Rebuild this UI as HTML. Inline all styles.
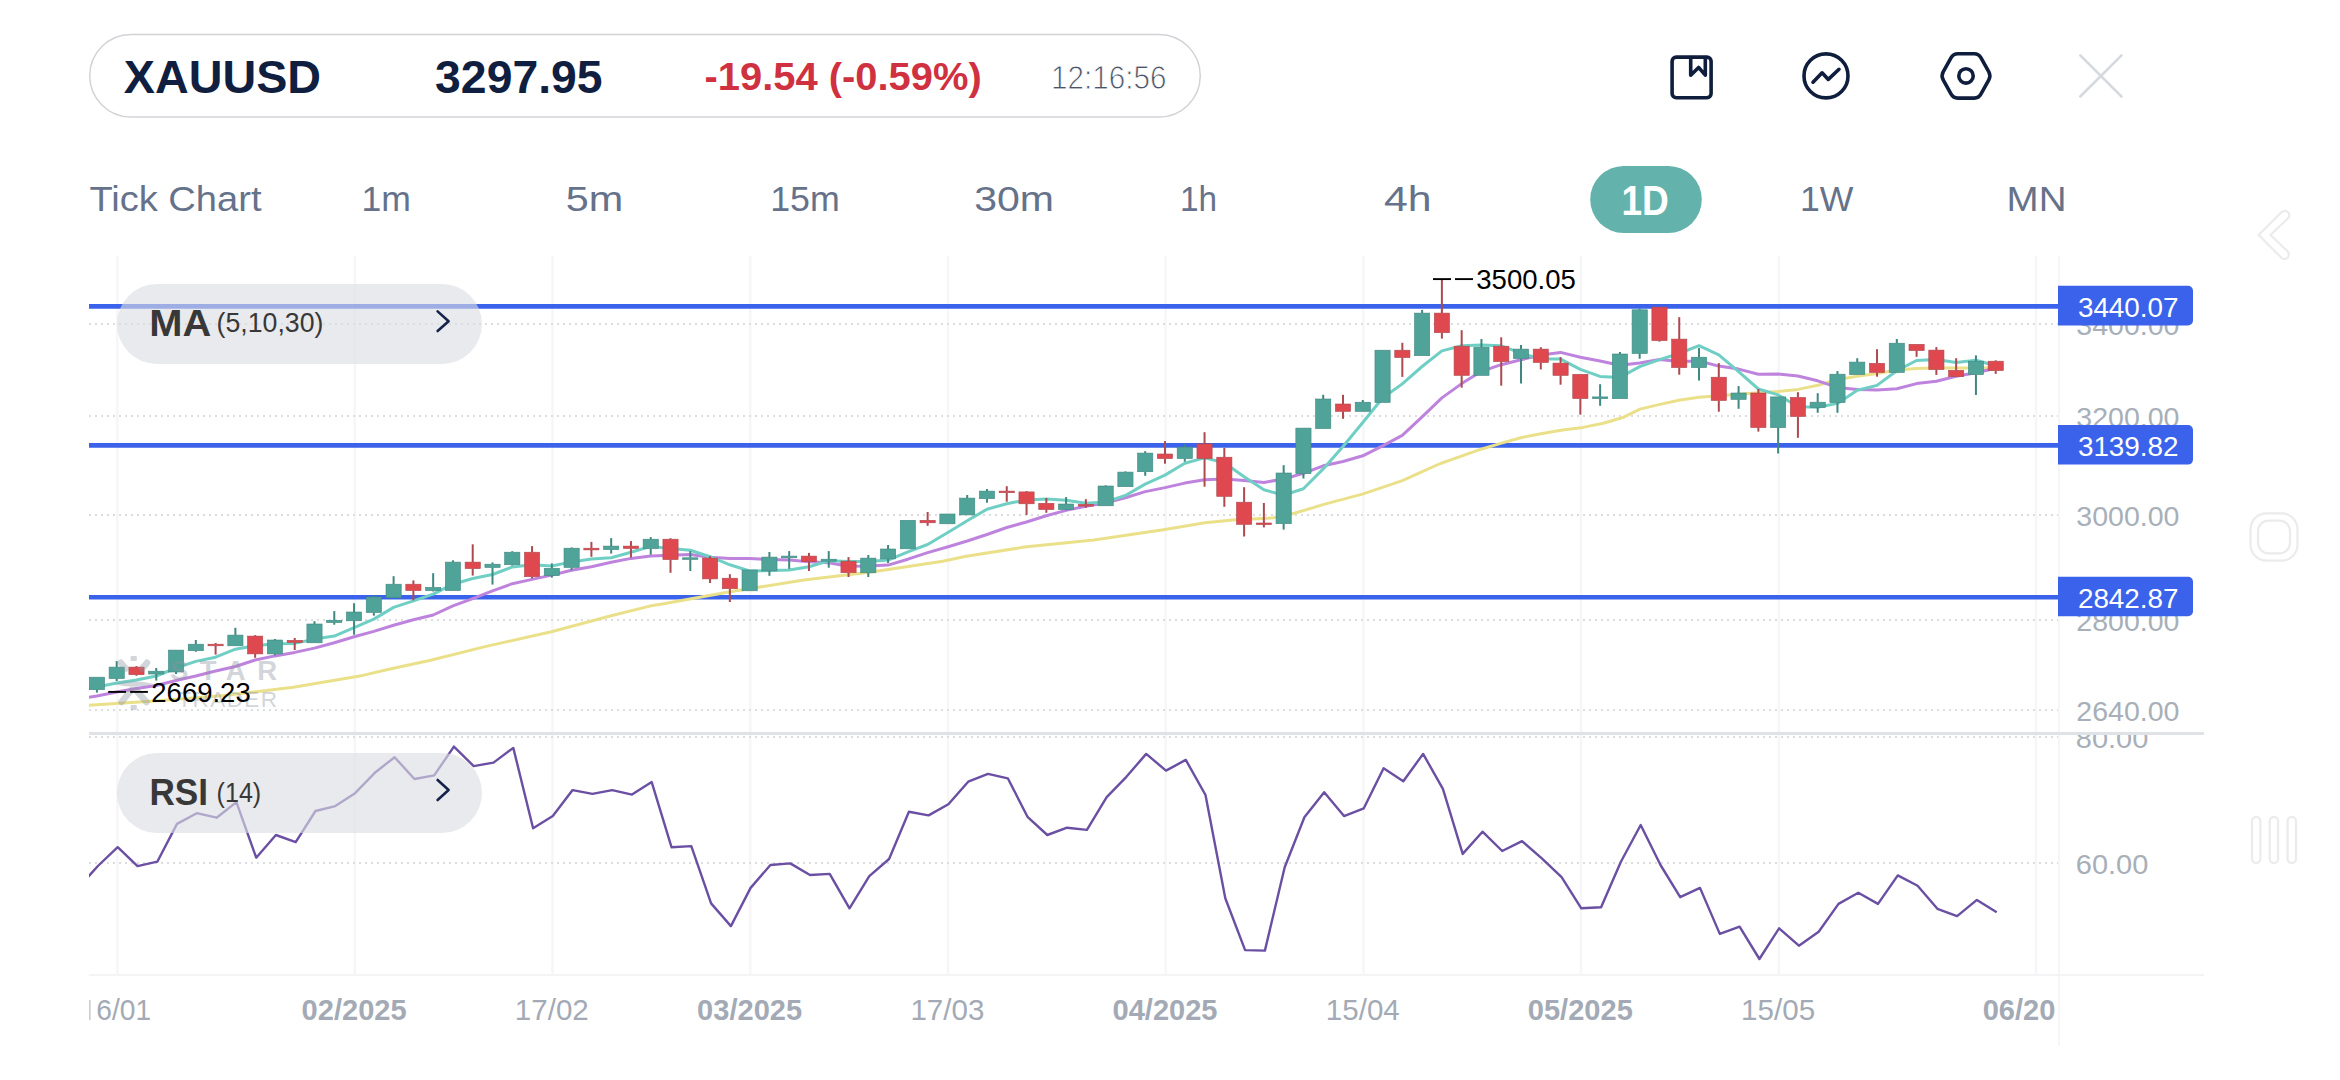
<!DOCTYPE html>
<html><head><meta charset="utf-8"><style>
html,body{margin:0;padding:0;background:#fff;width:2340px;height:1080px;overflow:hidden}
svg{position:absolute;left:0;top:0;display:block}
text{font-family:"Liberation Sans",sans-serif}
</style></head><body>
<svg width="2340" height="1080" viewBox="0 0 2340 1080">
<defs>
<clipPath id="cp"><rect x="89" y="250" width="1969.5" height="483"/></clipPath>
<clipPath id="cr"><rect x="89" y="734" width="1969.5" height="240"/></clipPath>
<clipPath id="cd"><rect x="89" y="980" width="1968" height="60"/></clipPath>
</defs>
<rect width="2340" height="1080" fill="#fff"/>

<rect x="89.75" y="34.5" width="1110.5" height="82.5" rx="41.25" fill="#fff" stroke="#d1d3d7" stroke-width="1.5"/>
<text x="123.8" y="93.1" font-size="45.5" font-weight="bold" fill="#101e40" textLength="197.3" lengthAdjust="spacingAndGlyphs">XAUUSD</text>
<text x="435.1" y="93.1" font-size="45.5" font-weight="bold" fill="#101e40" textLength="167.5" lengthAdjust="spacingAndGlyphs">3297.95</text>
<text x="704.5" y="90.2" font-size="39.7" font-weight="bold" fill="#cf3140" textLength="277.2" lengthAdjust="spacingAndGlyphs">-19.54 (-0.59%)</text>
<text x="1051.1" y="88.7" font-size="33.5" fill="#4a5568" stroke="#fff" stroke-width="0.9" textLength="115.4" lengthAdjust="spacingAndGlyphs">12:16:56</text>
<g fill="none" stroke="#0f1e3d" stroke-width="3.6" stroke-linejoin="round" stroke-linecap="round">
<rect x="1672.1" y="57.1" width="39" height="40.7" rx="4.2"/>
<path d="M1690.7,57.5 V75.3 L1698.6,67.4 L1705.3,75.2 V57.5"/>
<circle cx="1826" cy="75.9" r="22"/>
<path d="M1813,82.2 L1822.1,72.8 L1828.3,79.4 L1839,69.3"/>
<path d="M1943.18,71.96 L1951.12,57.64 Q1953.30,53.70 1957.80,53.70 L1974.20,53.70 Q1978.70,53.70 1980.88,57.64 L1988.82,71.96 Q1991.00,75.90 1988.82,79.84 L1980.88,94.16 Q1978.70,98.10 1974.20,98.10 L1957.80,98.10 Q1953.30,98.10 1951.12,94.16 L1943.18,79.84 Q1941.00,75.90 1943.18,71.96 Z"/>
<circle cx="1966" cy="75.9" r="7.2"/>
</g>
<g stroke="#d6d9de" stroke-width="2.6" stroke-linecap="round"><path d="M2080.3,55.3 L2121.5,96.5 M2121.5,55.3 L2080.3,96.5"/></g>
<text x="89.4" y="211.2" font-size="34.7" fill="#65728a" textLength="172.1" lengthAdjust="spacingAndGlyphs">Tick Chart</text>
<text x="361.6" y="211.2" font-size="34.7" fill="#65728a" textLength="49.4" lengthAdjust="spacingAndGlyphs">1m</text>
<text x="565.8" y="211.2" font-size="34.7" fill="#65728a" textLength="57.5" lengthAdjust="spacingAndGlyphs">5m</text>
<text x="770.1999999999999" y="211.2" font-size="34.7" fill="#65728a" textLength="69.6" lengthAdjust="spacingAndGlyphs">15m</text>
<text x="974.1999999999999" y="211.2" font-size="34.7" fill="#65728a" textLength="79.8" lengthAdjust="spacingAndGlyphs">30m</text>
<text x="1179.8999999999999" y="211.2" font-size="34.7" fill="#65728a" textLength="37.1" lengthAdjust="spacingAndGlyphs">1h</text>
<text x="1384.0" y="211.2" font-size="34.7" fill="#65728a" textLength="47.6" lengthAdjust="spacingAndGlyphs">4h</text>
<text x="1800.0" y="211.2" font-size="34.7" fill="#65728a" textLength="53.4" lengthAdjust="spacingAndGlyphs">1W</text>
<text x="2006.6" y="211.2" font-size="34.7" fill="#65728a" textLength="59.9" lengthAdjust="spacingAndGlyphs">MN</text>
<rect x="1590.2" y="165.9" width="111.6" height="67.1" rx="33.5" fill="#63b3ac"/>
<text x="1621.5" y="215.2" font-size="42" font-weight="bold" fill="#fff" textLength="47.4" lengthAdjust="spacingAndGlyphs">1D</text>
<g fill="none" stroke="#ebebeb" stroke-width="2.2" stroke-linejoin="round" stroke-linecap="round">
<path d="M2283.5,211.2 C2286.8,210.2 2289.8,212.8 2289.2,216 C2289,217.2 2288.3,218 2287.5,218.8 L2270.5,235 L2287.5,251.2 C2289.6,253.3 2289.2,257 2286.5,258.5 C2284.8,259.4 2282.8,259.1 2281.4,257.8 L2258.6,235 L2281.4,212.2 Z"/>
<rect x="2250.5" y="513.3" width="47" height="47.4" rx="16"/>
<rect x="2258" y="520.7" width="32" height="32.6" rx="10.5"/>
<rect x="2252.0" y="816.8" width="8.4" height="46.2" rx="4.2"/>
<rect x="2269.7" y="816.8" width="8.4" height="46.2" rx="4.2"/>
<rect x="2287.6" y="816.8" width="8.4" height="46.2" rx="4.2"/>
</g>
<line x1="117.4" y1="256" x2="117.4" y2="974" stroke="#f6f6f8" stroke-width="2.4"/>
<line x1="354.8" y1="256" x2="354.8" y2="974" stroke="#f6f6f8" stroke-width="2.4"/>
<line x1="552.5" y1="256" x2="552.5" y2="974" stroke="#f6f6f8" stroke-width="2.4"/>
<line x1="750.3" y1="256" x2="750.3" y2="974" stroke="#f6f6f8" stroke-width="2.4"/>
<line x1="948.1" y1="256" x2="948.1" y2="974" stroke="#f6f6f8" stroke-width="2.4"/>
<line x1="1165.7" y1="256" x2="1165.7" y2="974" stroke="#f6f6f8" stroke-width="2.4"/>
<line x1="1363.5" y1="256" x2="1363.5" y2="974" stroke="#f6f6f8" stroke-width="2.4"/>
<line x1="1581.0" y1="256" x2="1581.0" y2="974" stroke="#f6f6f8" stroke-width="2.4"/>
<line x1="1778.8" y1="256" x2="1778.8" y2="974" stroke="#f6f6f8" stroke-width="2.4"/>
<line x1="2036.0" y1="256" x2="2036.0" y2="974" stroke="#f6f6f8" stroke-width="2.4"/>
<line x1="2059" y1="256" x2="2059" y2="1046" stroke="#f6f6f8" stroke-width="2"/>
<line x1="89" y1="324" x2="2058" y2="324" stroke="#dcdde0" stroke-width="2" stroke-dasharray="2 4"/>
<line x1="89" y1="416" x2="2058" y2="416" stroke="#dcdde0" stroke-width="2" stroke-dasharray="2 4"/>
<line x1="89" y1="515" x2="2058" y2="515" stroke="#dcdde0" stroke-width="2" stroke-dasharray="2 4"/>
<line x1="89" y1="620" x2="2058" y2="620" stroke="#dcdde0" stroke-width="2" stroke-dasharray="2 4"/>
<line x1="89" y1="710" x2="2058" y2="710" stroke="#dcdde0" stroke-width="2" stroke-dasharray="2 4"/>
<line x1="89" y1="737" x2="2058" y2="737" stroke="#dcdde0" stroke-width="2" stroke-dasharray="2 4"/>
<line x1="89" y1="863" x2="2058" y2="863" stroke="#dcdde0" stroke-width="2" stroke-dasharray="2 4"/>
<line x1="89" y1="733.5" x2="2204" y2="733.5" stroke="#dfe2e6" stroke-width="3"/>
<line x1="89" y1="975" x2="2204" y2="975" stroke="#eef0f3" stroke-width="1.6"/>
<text x="2076.3" y="335.2" font-size="27.5" fill="#a8afb8" textLength="103.2" lengthAdjust="spacingAndGlyphs">3400.00</text>
<text x="2076.3" y="427.2" font-size="27.5" fill="#a8afb8" textLength="103.2" lengthAdjust="spacingAndGlyphs">3200.00</text>
<text x="2076.3" y="526.2" font-size="27.5" fill="#a8afb8" textLength="103.2" lengthAdjust="spacingAndGlyphs">3000.00</text>
<text x="2076.3" y="631.2" font-size="27.5" fill="#a8afb8" textLength="103.2" lengthAdjust="spacingAndGlyphs">2800.00</text>
<text x="2076.3" y="721.2" font-size="27.5" fill="#a8afb8" textLength="103.2" lengthAdjust="spacingAndGlyphs">2640.00</text>
<clipPath id="crl"><rect x="2060" y="735" width="200" height="240"/></clipPath>
<g clip-path="url(#crl)">
<text x="2075.8" y="748.2" font-size="27.5" fill="#a8afb8" textLength="72.6" lengthAdjust="spacingAndGlyphs">80.00</text>
<text x="2075.8" y="874.2" font-size="27.5" fill="#a8afb8" textLength="72.6" lengthAdjust="spacingAndGlyphs">60.00</text>
</g>
<text x="301.6" y="1020.2" font-size="29.3" font-weight="bold" fill="#a3aab5" textLength="105" lengthAdjust="spacingAndGlyphs">02/2025</text>
<text x="514.8" y="1020.2" font-size="29.3" fill="#a3aab5" textLength="74" lengthAdjust="spacingAndGlyphs">17/02</text>
<text x="697.1" y="1020.2" font-size="29.3" font-weight="bold" fill="#a3aab5" textLength="105" lengthAdjust="spacingAndGlyphs">03/2025</text>
<text x="910.4" y="1020.2" font-size="29.3" fill="#a3aab5" textLength="74" lengthAdjust="spacingAndGlyphs">17/03</text>
<text x="1112.5" y="1020.2" font-size="29.3" font-weight="bold" fill="#a3aab5" textLength="105" lengthAdjust="spacingAndGlyphs">04/2025</text>
<text x="1325.8" y="1020.2" font-size="29.3" fill="#a3aab5" textLength="74" lengthAdjust="spacingAndGlyphs">15/04</text>
<text x="1527.8" y="1020.2" font-size="29.3" font-weight="bold" fill="#a3aab5" textLength="105" lengthAdjust="spacingAndGlyphs">05/2025</text>
<text x="1741.1" y="1020.2" font-size="29.3" fill="#a3aab5" textLength="74" lengthAdjust="spacingAndGlyphs">15/05</text>
<text x="96.3" y="1020.2" font-size="29.3" fill="#a3aab5" textLength="54.8" lengthAdjust="spacingAndGlyphs">6/01</text>
<rect x="89" y="1000" width="1.6" height="20.2" fill="#a3aab5" opacity="0.6"/>
<text x="1982.7" y="1020.2" font-size="29.3" font-weight="bold" fill="#a3aab5" textLength="72.7" lengthAdjust="spacingAndGlyphs">06/20</text>
<g clip-path="url(#cp)">
<line x1="89" y1="306.4" x2="2058" y2="306.4" stroke="#3a62ea" stroke-width="4.6"/>
<line x1="89" y1="445.4" x2="2058" y2="445.4" stroke="#3a62ea" stroke-width="4.6"/>
<line x1="89" y1="597.3" x2="2058" y2="597.3" stroke="#3a62ea" stroke-width="4.6"/>
<polyline points="89.0,705.3 154.4,701.1 223.9,695.6 293.3,687.2 362.8,675.4 388.9,669.3 430.6,660.3 486.1,646.4 551.4,631.8 611.1,615.8 652.8,605.4 665.0,603.6 734.4,591.1 803.9,580.0 873.3,571.7 942.8,561.2 965.0,556.5 1024.4,547.1 1093.9,540.1 1163.3,529.7 1205.0,522.8 1232.8,520.0 1273.5,517.8 1294.3,513.3 1323.9,504.4 1362.4,494.1 1402.4,480.7 1420.0,472.7 1440.4,463.5 1460.7,456.4 1481.1,449.2 1501.5,443.1 1521.8,437.5 1542.2,433.5 1562.6,429.9 1582.9,427.4 1603.3,423.3 1623.7,417.2 1640.0,409.1 1658.9,404.6 1678.9,400.2 1698.9,397.2 1718.9,395.7 1738.9,394.3 1757.9,392.8 1778.0,391.5 1798.0,389.4 1818.0,385.3 1837.0,379.7 1857.0,376.2 1877.0,373.5 1897.0,370.0 1917.0,368.6 1936.0,367.9 1956.0,367.9 1976.0,367.9 1995.0,367.9" fill="none" stroke="#ebe08a" stroke-width="3" stroke-linejoin="round" stroke-linecap="round"/>
<polyline points="77.1,699.0 96.9,696.0 116.7,692.0 136.5,688.5 156.3,685.5 176.0,680.5 195.8,676.0 215.6,671.0 235.4,666.5 255.2,660.0 274.9,655.9 294.7,652.4 314.5,648.1 334.3,642.7 354.1,636.7 373.8,631.4 393.6,625.3 413.4,619.8 433.2,615.0 452.9,605.8 472.7,598.7 492.5,590.9 512.3,583.7 532.1,579.4 551.8,575.1 571.6,570.2 591.4,566.8 611.2,562.3 631.0,558.4 650.7,556.1 670.5,555.3 690.3,554.6 710.1,557.3 729.9,558.5 749.6,558.6 769.4,559.5 789.2,560.1 809.0,561.7 828.7,562.8 848.5,566.2 868.3,566.0 888.1,565.1 907.9,559.2 927.6,552.6 947.4,547.0 967.2,541.0 987.0,534.5 1006.8,527.5 1026.5,522.0 1046.3,515.8 1066.1,510.4 1085.9,506.2 1105.7,502.8 1125.4,497.7 1145.2,491.6 1165.0,487.6 1184.8,483.1 1204.5,479.7 1224.3,479.0 1244.1,480.4 1263.9,482.4 1283.7,479.1 1303.4,473.3 1323.2,465.8 1343.0,461.5 1362.8,455.8 1382.6,445.8 1402.3,435.4 1422.1,416.8 1441.9,397.9 1461.7,383.6 1481.5,371.3 1501.2,364.7 1521.0,359.8 1540.8,355.0 1560.6,352.4 1580.3,357.2 1600.1,361.0 1619.9,365.2 1639.7,362.9 1659.5,359.4 1679.2,361.4 1699.0,361.0 1718.8,366.1 1738.6,369.1 1758.4,374.2 1778.1,374.1 1797.9,376.0 1817.7,380.8 1837.5,387.4 1857.3,389.6 1877.0,390.1 1896.8,388.7 1916.6,383.6 1936.4,381.3 1956.1,376.3 1975.9,372.7 1995.7,368.2" fill="none" stroke="#be83dd" stroke-width="3" stroke-linejoin="round" stroke-linecap="round"/>
<polyline points="77.1,689.0 96.9,687.0 116.7,683.0 136.5,680.0 156.3,676.0 176.0,668.0 195.8,661.4 215.6,657.2 235.4,649.2 255.2,645.8 274.9,643.8 294.7,643.4 314.5,639.1 334.3,636.1 354.1,627.7 373.8,619.1 393.6,607.4 413.4,600.8 433.2,594.2 452.9,584.2 472.7,578.5 492.5,574.5 512.3,566.9 532.1,564.7 551.8,566.0 571.6,561.9 591.4,559.0 611.2,557.8 631.0,552.2 650.7,546.4 670.5,548.6 690.3,550.2 710.1,556.7 729.9,564.8 749.6,571.0 769.4,570.5 789.2,570.1 809.0,566.7 828.7,560.8 848.5,561.4 868.3,561.6 888.1,560.1 907.9,551.8 927.6,544.5 947.4,532.7 967.2,520.8 987.0,509.2 1006.8,503.7 1026.5,499.9 1046.3,499.0 1066.1,500.2 1085.9,503.2 1105.7,501.9 1125.4,495.5 1145.2,484.1 1165.0,475.1 1184.8,463.3 1204.5,457.9 1224.3,462.7 1244.1,476.7 1263.9,489.8 1283.7,495.1 1303.4,488.8 1323.2,468.9 1343.0,446.5 1362.8,422.5 1382.6,398.0 1402.3,383.9 1422.1,366.5 1441.9,350.9 1461.7,345.7 1481.5,345.1 1501.2,345.8 1521.0,353.1 1540.8,359.1 1560.6,359.1 1580.3,369.3 1600.1,376.4 1619.9,377.4 1639.7,366.6 1659.5,359.6 1679.2,353.5 1699.0,345.7 1718.8,354.8 1738.6,371.6 1758.4,389.0 1778.1,394.9 1797.9,406.8 1817.7,407.2 1837.5,403.4 1857.3,390.3 1877.0,385.4 1896.8,370.7 1916.6,360.5 1936.4,359.6 1956.1,362.5 1975.9,360.2 1995.7,365.7" fill="none" stroke="#70cfc5" stroke-width="3" stroke-linejoin="round" stroke-linecap="round"/>
<rect x="95.92" y="689.7" width="2" height="2.9" fill="#3f8880"/>
<rect x="89.32" y="677.2" width="15.2" height="12.5" fill="#50a398" stroke="#3f8880" stroke-width="0.6"/>
<rect x="115.70" y="661.1" width="2" height="6.0" fill="#3f8880"/>
<rect x="115.70" y="678.6" width="2" height="2.4" fill="#3f8880"/>
<rect x="109.10" y="667.1" width="15.2" height="11.5" fill="#50a398" stroke="#3f8880" stroke-width="0.6"/>
<rect x="135.48" y="666.1" width="2" height="1.0" fill="#ad4a50"/>
<rect x="135.48" y="674.7" width="2" height="1.1" fill="#ad4a50"/>
<rect x="128.88" y="667.1" width="15.2" height="7.6" fill="#de484e" stroke="#ad4a50" stroke-width="0.6"/>
<rect x="155.26" y="668.0" width="2" height="3.2" fill="#3f8880"/>
<rect x="155.26" y="674.0" width="2" height="6.6" fill="#3f8880"/>
<rect x="148.66" y="671.2" width="15.2" height="2.8" fill="#50a398" stroke="#3f8880" stroke-width="0.6"/>
<rect x="175.04" y="672.0" width="2" height="2.0" fill="#3f8880"/>
<rect x="168.44" y="650.1" width="15.2" height="21.9" fill="#50a398" stroke="#3f8880" stroke-width="0.6"/>
<rect x="194.82" y="640.0" width="2" height="4.2" fill="#3f8880"/>
<rect x="194.82" y="650.7" width="2" height="1.1" fill="#3f8880"/>
<rect x="188.22" y="644.2" width="15.2" height="6.5" fill="#50a398" stroke="#3f8880" stroke-width="0.6"/>
<rect x="214.60" y="643.0" width="2" height="1.2" fill="#ad4a50"/>
<rect x="214.60" y="645.8" width="2" height="8.8" fill="#ad4a50"/>
<rect x="208.00" y="644.2" width="15.2" height="1.6" fill="#de484e" stroke="#ad4a50" stroke-width="0.6"/>
<rect x="234.38" y="627.8" width="2" height="7.3" fill="#3f8880"/>
<rect x="227.78" y="635.1" width="15.2" height="10.7" fill="#50a398" stroke="#3f8880" stroke-width="0.6"/>
<rect x="254.16" y="635.1" width="2" height="1.0" fill="#ad4a50"/>
<rect x="254.16" y="653.9" width="2" height="3.9" fill="#ad4a50"/>
<rect x="247.56" y="636.1" width="15.2" height="17.8" fill="#de484e" stroke="#ad4a50" stroke-width="0.6"/>
<rect x="273.93" y="639.0" width="2" height="1.0" fill="#3f8880"/>
<rect x="273.93" y="653.9" width="2" height="1.4" fill="#3f8880"/>
<rect x="267.33" y="640.0" width="15.2" height="13.9" fill="#50a398" stroke="#3f8880" stroke-width="0.6"/>
<rect x="293.71" y="638.0" width="2" height="2.3" fill="#ad4a50"/>
<rect x="293.71" y="642.5" width="2" height="7.5" fill="#ad4a50"/>
<rect x="287.11" y="640.3" width="15.2" height="2.2" fill="#de484e" stroke="#ad4a50" stroke-width="0.6"/>
<rect x="313.49" y="621.2" width="2" height="2.8" fill="#3f8880"/>
<rect x="306.89" y="624.0" width="15.2" height="18.8" fill="#50a398" stroke="#3f8880" stroke-width="0.6"/>
<rect x="333.27" y="611.1" width="2" height="9.2" fill="#3f8880"/>
<rect x="333.27" y="622.6" width="2" height="2.1" fill="#3f8880"/>
<rect x="326.67" y="620.3" width="15.2" height="2.3" fill="#50a398" stroke="#3f8880" stroke-width="0.6"/>
<rect x="353.05" y="603.2" width="2" height="8.8" fill="#3f8880"/>
<rect x="353.05" y="620.8" width="2" height="13.9" fill="#3f8880"/>
<rect x="346.45" y="612.0" width="15.2" height="8.8" fill="#50a398" stroke="#3f8880" stroke-width="0.6"/>
<rect x="372.83" y="595.5" width="2" height="1.5" fill="#3f8880"/>
<rect x="372.83" y="612.5" width="2" height="3.2" fill="#3f8880"/>
<rect x="366.23" y="597.0" width="15.2" height="15.5" fill="#50a398" stroke="#3f8880" stroke-width="0.6"/>
<rect x="392.61" y="576.2" width="2" height="8.0" fill="#3f8880"/>
<rect x="386.01" y="584.2" width="15.2" height="13.6" fill="#50a398" stroke="#3f8880" stroke-width="0.6"/>
<rect x="412.39" y="580.4" width="2" height="3.8" fill="#ad4a50"/>
<rect x="412.39" y="590.6" width="2" height="9.7" fill="#ad4a50"/>
<rect x="405.79" y="584.2" width="15.2" height="6.4" fill="#de484e" stroke="#ad4a50" stroke-width="0.6"/>
<rect x="432.17" y="573.2" width="2" height="14.2" fill="#3f8880"/>
<rect x="432.17" y="590.6" width="2" height="0.9" fill="#3f8880"/>
<rect x="425.57" y="587.4" width="15.2" height="3.2" fill="#50a398" stroke="#3f8880" stroke-width="0.6"/>
<rect x="451.94" y="560.3" width="2" height="1.8" fill="#3f8880"/>
<rect x="445.34" y="562.1" width="15.2" height="28.5" fill="#50a398" stroke="#3f8880" stroke-width="0.6"/>
<rect x="471.72" y="544.3" width="2" height="17.8" fill="#ad4a50"/>
<rect x="471.72" y="568.6" width="2" height="7.0" fill="#ad4a50"/>
<rect x="465.12" y="562.1" width="15.2" height="6.5" fill="#de484e" stroke="#ad4a50" stroke-width="0.6"/>
<rect x="491.50" y="562.4" width="2" height="1.8" fill="#3f8880"/>
<rect x="491.50" y="567.5" width="2" height="17.1" fill="#3f8880"/>
<rect x="484.90" y="564.2" width="15.2" height="3.3" fill="#50a398" stroke="#3f8880" stroke-width="0.6"/>
<rect x="511.28" y="551.2" width="2" height="1.0" fill="#3f8880"/>
<rect x="511.28" y="564.7" width="2" height="0.9" fill="#3f8880"/>
<rect x="504.68" y="552.2" width="15.2" height="12.5" fill="#50a398" stroke="#3f8880" stroke-width="0.6"/>
<rect x="531.06" y="546.1" width="2" height="6.1" fill="#ad4a50"/>
<rect x="531.06" y="576.7" width="2" height="1.6" fill="#ad4a50"/>
<rect x="524.46" y="552.2" width="15.2" height="24.5" fill="#de484e" stroke="#ad4a50" stroke-width="0.6"/>
<rect x="550.84" y="563.3" width="2" height="5.0" fill="#3f8880"/>
<rect x="550.84" y="575.6" width="2" height="2.0" fill="#3f8880"/>
<rect x="544.24" y="568.3" width="15.2" height="7.3" fill="#50a398" stroke="#3f8880" stroke-width="0.6"/>
<rect x="570.62" y="547.4" width="2" height="0.8" fill="#3f8880"/>
<rect x="570.62" y="567.5" width="2" height="2.8" fill="#3f8880"/>
<rect x="564.02" y="548.2" width="15.2" height="19.3" fill="#50a398" stroke="#3f8880" stroke-width="0.6"/>
<rect x="590.40" y="541.9" width="2" height="6.3" fill="#ad4a50"/>
<rect x="590.40" y="549.9" width="2" height="6.9" fill="#ad4a50"/>
<rect x="583.80" y="548.2" width="15.2" height="1.7" fill="#de484e" stroke="#ad4a50" stroke-width="0.6"/>
<rect x="610.18" y="538.1" width="2" height="8.0" fill="#3f8880"/>
<rect x="610.18" y="549.6" width="2" height="4.0" fill="#3f8880"/>
<rect x="603.58" y="546.1" width="15.2" height="3.5" fill="#50a398" stroke="#3f8880" stroke-width="0.6"/>
<rect x="629.96" y="541.1" width="2" height="5.0" fill="#ad4a50"/>
<rect x="629.96" y="548.5" width="2" height="9.0" fill="#ad4a50"/>
<rect x="623.36" y="546.1" width="15.2" height="2.4" fill="#de484e" stroke="#ad4a50" stroke-width="0.6"/>
<rect x="649.74" y="537.1" width="2" height="2.1" fill="#3f8880"/>
<rect x="649.74" y="548.5" width="2" height="6.2" fill="#3f8880"/>
<rect x="643.13" y="539.2" width="15.2" height="9.3" fill="#50a398" stroke="#3f8880" stroke-width="0.6"/>
<rect x="669.51" y="538.2" width="2" height="1.0" fill="#ad4a50"/>
<rect x="669.51" y="559.6" width="2" height="13.2" fill="#ad4a50"/>
<rect x="662.91" y="539.2" width="15.2" height="20.4" fill="#de484e" stroke="#ad4a50" stroke-width="0.6"/>
<rect x="689.29" y="551.1" width="2" height="6.7" fill="#3f8880"/>
<rect x="689.29" y="559.4" width="2" height="11.6" fill="#3f8880"/>
<rect x="682.69" y="557.8" width="15.2" height="1.6" fill="#50a398" stroke="#3f8880" stroke-width="0.6"/>
<rect x="709.07" y="556.1" width="2" height="2.0" fill="#ad4a50"/>
<rect x="709.07" y="578.9" width="2" height="4.1" fill="#ad4a50"/>
<rect x="702.47" y="558.1" width="15.2" height="20.8" fill="#de484e" stroke="#ad4a50" stroke-width="0.6"/>
<rect x="728.85" y="574.2" width="2" height="4.0" fill="#ad4a50"/>
<rect x="728.85" y="588.8" width="2" height="13.2" fill="#ad4a50"/>
<rect x="722.25" y="578.2" width="15.2" height="10.5" fill="#de484e" stroke="#ad4a50" stroke-width="0.6"/>
<rect x="742.03" y="570.0" width="15.2" height="20.8" fill="#50a398" stroke="#3f8880" stroke-width="0.6"/>
<rect x="768.41" y="552.0" width="2" height="5.1" fill="#3f8880"/>
<rect x="768.41" y="571.0" width="2" height="4.8" fill="#3f8880"/>
<rect x="761.81" y="557.1" width="15.2" height="13.9" fill="#50a398" stroke="#3f8880" stroke-width="0.6"/>
<rect x="788.19" y="551.1" width="2" height="5.0" fill="#3f8880"/>
<rect x="788.19" y="557.8" width="2" height="11.1" fill="#3f8880"/>
<rect x="781.59" y="556.1" width="15.2" height="1.7" fill="#50a398" stroke="#3f8880" stroke-width="0.6"/>
<rect x="807.97" y="552.9" width="2" height="3.2" fill="#ad4a50"/>
<rect x="807.97" y="561.7" width="2" height="9.3" fill="#ad4a50"/>
<rect x="801.37" y="556.1" width="15.2" height="5.6" fill="#de484e" stroke="#ad4a50" stroke-width="0.6"/>
<rect x="827.75" y="551.1" width="2" height="8.1" fill="#3f8880"/>
<rect x="827.75" y="561.2" width="2" height="6.5" fill="#3f8880"/>
<rect x="821.15" y="559.2" width="15.2" height="2.0" fill="#50a398" stroke="#3f8880" stroke-width="0.6"/>
<rect x="847.53" y="557.1" width="2" height="4.1" fill="#ad4a50"/>
<rect x="847.53" y="572.8" width="2" height="4.2" fill="#ad4a50"/>
<rect x="840.93" y="561.2" width="15.2" height="11.5" fill="#de484e" stroke="#ad4a50" stroke-width="0.6"/>
<rect x="867.30" y="555.0" width="2" height="3.1" fill="#3f8880"/>
<rect x="867.30" y="572.8" width="2" height="4.2" fill="#3f8880"/>
<rect x="860.70" y="558.1" width="15.2" height="14.7" fill="#50a398" stroke="#3f8880" stroke-width="0.6"/>
<rect x="887.08" y="545.0" width="2" height="4.0" fill="#3f8880"/>
<rect x="887.08" y="558.9" width="2" height="4.1" fill="#3f8880"/>
<rect x="880.48" y="549.0" width="15.2" height="9.9" fill="#50a398" stroke="#3f8880" stroke-width="0.6"/>
<rect x="900.26" y="520.3" width="15.2" height="28.5" fill="#50a398" stroke="#3f8880" stroke-width="0.6"/>
<rect x="926.64" y="512.0" width="2" height="8.3" fill="#ad4a50"/>
<rect x="926.64" y="522.8" width="2" height="3.0" fill="#ad4a50"/>
<rect x="920.04" y="520.3" width="15.2" height="2.5" fill="#de484e" stroke="#ad4a50" stroke-width="0.6"/>
<rect x="939.82" y="514.0" width="15.2" height="9.8" fill="#50a398" stroke="#3f8880" stroke-width="0.6"/>
<rect x="966.20" y="495.0" width="2" height="3.1" fill="#3f8880"/>
<rect x="959.60" y="498.1" width="15.2" height="16.8" fill="#50a398" stroke="#3f8880" stroke-width="0.6"/>
<rect x="985.98" y="489.0" width="2" height="2.1" fill="#3f8880"/>
<rect x="985.98" y="498.8" width="2" height="3.9" fill="#3f8880"/>
<rect x="979.38" y="491.1" width="15.2" height="7.6" fill="#50a398" stroke="#3f8880" stroke-width="0.6"/>
<rect x="1005.76" y="486.2" width="2" height="4.9" fill="#ad4a50"/>
<rect x="1005.76" y="492.6" width="2" height="9.1" fill="#ad4a50"/>
<rect x="999.16" y="491.1" width="15.2" height="1.6" fill="#de484e" stroke="#ad4a50" stroke-width="0.6"/>
<rect x="1025.54" y="491.1" width="2" height="0.8" fill="#ad4a50"/>
<rect x="1025.54" y="503.8" width="2" height="11.1" fill="#ad4a50"/>
<rect x="1018.94" y="491.9" width="15.2" height="11.9" fill="#de484e" stroke="#ad4a50" stroke-width="0.6"/>
<rect x="1045.32" y="498.0" width="2" height="5.3" fill="#ad4a50"/>
<rect x="1045.32" y="509.6" width="2" height="3.2" fill="#ad4a50"/>
<rect x="1038.72" y="503.3" width="15.2" height="6.3" fill="#de484e" stroke="#ad4a50" stroke-width="0.6"/>
<rect x="1065.09" y="497.1" width="2" height="6.9" fill="#3f8880"/>
<rect x="1065.09" y="509.6" width="2" height="0.7" fill="#3f8880"/>
<rect x="1058.49" y="504.0" width="15.2" height="5.6" fill="#50a398" stroke="#3f8880" stroke-width="0.6"/>
<rect x="1084.87" y="499.2" width="2" height="5.2" fill="#ad4a50"/>
<rect x="1084.87" y="506.1" width="2" height="1.7" fill="#ad4a50"/>
<rect x="1078.27" y="504.4" width="15.2" height="1.7" fill="#de484e" stroke="#ad4a50" stroke-width="0.6"/>
<rect x="1104.65" y="485.3" width="2" height="0.7" fill="#3f8880"/>
<rect x="1098.05" y="486.0" width="15.2" height="19.8" fill="#50a398" stroke="#3f8880" stroke-width="0.6"/>
<rect x="1124.43" y="471.4" width="2" height="0.7" fill="#3f8880"/>
<rect x="1117.83" y="472.1" width="15.2" height="14.6" fill="#50a398" stroke="#3f8880" stroke-width="0.6"/>
<rect x="1144.21" y="451.2" width="2" height="1.9" fill="#3f8880"/>
<rect x="1144.21" y="471.7" width="2" height="4.1" fill="#3f8880"/>
<rect x="1137.61" y="453.1" width="15.2" height="18.6" fill="#50a398" stroke="#3f8880" stroke-width="0.6"/>
<rect x="1163.99" y="441.1" width="2" height="12.9" fill="#ad4a50"/>
<rect x="1163.99" y="458.6" width="2" height="5.1" fill="#ad4a50"/>
<rect x="1157.39" y="454.0" width="15.2" height="4.6" fill="#de484e" stroke="#ad4a50" stroke-width="0.6"/>
<rect x="1183.77" y="444.3" width="2" height="2.8" fill="#3f8880"/>
<rect x="1183.77" y="458.6" width="2" height="3.1" fill="#3f8880"/>
<rect x="1177.17" y="447.1" width="15.2" height="11.5" fill="#50a398" stroke="#3f8880" stroke-width="0.6"/>
<rect x="1203.55" y="432.2" width="2" height="11.7" fill="#ad4a50"/>
<rect x="1203.55" y="458.6" width="2" height="28.1" fill="#ad4a50"/>
<rect x="1196.95" y="443.9" width="15.2" height="14.7" fill="#de484e" stroke="#ad4a50" stroke-width="0.6"/>
<rect x="1223.33" y="447.8" width="2" height="9.4" fill="#ad4a50"/>
<rect x="1223.33" y="496.4" width="2" height="10.4" fill="#ad4a50"/>
<rect x="1216.73" y="457.2" width="15.2" height="39.2" fill="#de484e" stroke="#ad4a50" stroke-width="0.6"/>
<rect x="1243.11" y="487.2" width="2" height="15.0" fill="#ad4a50"/>
<rect x="1243.11" y="524.4" width="2" height="12.1" fill="#ad4a50"/>
<rect x="1236.51" y="502.2" width="15.2" height="22.2" fill="#de484e" stroke="#ad4a50" stroke-width="0.6"/>
<rect x="1262.88" y="503.0" width="2" height="20.0" fill="#ad4a50"/>
<rect x="1262.88" y="524.4" width="2" height="3.0" fill="#ad4a50"/>
<rect x="1256.28" y="523.0" width="15.2" height="1.6" fill="#de484e" stroke="#ad4a50" stroke-width="0.6"/>
<rect x="1282.66" y="465.2" width="2" height="7.8" fill="#3f8880"/>
<rect x="1282.66" y="523.7" width="2" height="5.9" fill="#3f8880"/>
<rect x="1276.06" y="473.0" width="15.2" height="50.7" fill="#50a398" stroke="#3f8880" stroke-width="0.6"/>
<rect x="1302.44" y="473.6" width="2" height="4.9" fill="#3f8880"/>
<rect x="1295.84" y="428.1" width="15.2" height="45.5" fill="#50a398" stroke="#3f8880" stroke-width="0.6"/>
<rect x="1322.22" y="394.8" width="2" height="4.2" fill="#3f8880"/>
<rect x="1315.62" y="399.0" width="15.2" height="29.6" fill="#50a398" stroke="#3f8880" stroke-width="0.6"/>
<rect x="1342.00" y="394.8" width="2" height="9.2" fill="#ad4a50"/>
<rect x="1342.00" y="411.4" width="2" height="7.4" fill="#ad4a50"/>
<rect x="1335.40" y="404.0" width="15.2" height="7.4" fill="#de484e" stroke="#ad4a50" stroke-width="0.6"/>
<rect x="1361.78" y="400.0" width="2" height="2.2" fill="#3f8880"/>
<rect x="1355.18" y="402.2" width="15.2" height="9.2" fill="#50a398" stroke="#3f8880" stroke-width="0.6"/>
<rect x="1374.96" y="350.2" width="15.2" height="52.3" fill="#50a398" stroke="#3f8880" stroke-width="0.6"/>
<rect x="1401.34" y="342.8" width="2" height="7.4" fill="#ad4a50"/>
<rect x="1401.34" y="357.6" width="2" height="19.3" fill="#ad4a50"/>
<rect x="1394.74" y="350.2" width="15.2" height="7.4" fill="#de484e" stroke="#ad4a50" stroke-width="0.6"/>
<rect x="1421.12" y="309.9" width="2" height="3.2" fill="#3f8880"/>
<rect x="1414.52" y="313.1" width="15.2" height="42.6" fill="#50a398" stroke="#3f8880" stroke-width="0.6"/>
<rect x="1440.89" y="279.1" width="2" height="34.0" fill="#ad4a50"/>
<rect x="1440.89" y="332.7" width="2" height="5.9" fill="#ad4a50"/>
<rect x="1434.30" y="313.1" width="15.2" height="19.6" fill="#de484e" stroke="#ad4a50" stroke-width="0.6"/>
<rect x="1460.67" y="330.2" width="2" height="16.0" fill="#ad4a50"/>
<rect x="1460.67" y="375.4" width="2" height="12.3" fill="#ad4a50"/>
<rect x="1454.07" y="346.2" width="15.2" height="29.2" fill="#de484e" stroke="#ad4a50" stroke-width="0.6"/>
<rect x="1480.45" y="339.0" width="2" height="8.2" fill="#3f8880"/>
<rect x="1473.85" y="347.2" width="15.2" height="28.2" fill="#50a398" stroke="#3f8880" stroke-width="0.6"/>
<rect x="1500.23" y="337.3" width="2" height="8.9" fill="#ad4a50"/>
<rect x="1500.23" y="361.6" width="2" height="24.1" fill="#ad4a50"/>
<rect x="1493.63" y="346.2" width="15.2" height="15.4" fill="#de484e" stroke="#ad4a50" stroke-width="0.6"/>
<rect x="1520.01" y="345.0" width="2" height="4.1" fill="#3f8880"/>
<rect x="1520.01" y="358.6" width="2" height="24.9" fill="#3f8880"/>
<rect x="1513.41" y="349.1" width="15.2" height="9.5" fill="#50a398" stroke="#3f8880" stroke-width="0.6"/>
<rect x="1539.79" y="347.2" width="2" height="1.9" fill="#ad4a50"/>
<rect x="1539.79" y="362.5" width="2" height="6.9" fill="#ad4a50"/>
<rect x="1533.19" y="349.1" width="15.2" height="13.4" fill="#de484e" stroke="#ad4a50" stroke-width="0.6"/>
<rect x="1559.57" y="357.1" width="2" height="6.0" fill="#ad4a50"/>
<rect x="1559.57" y="375.4" width="2" height="9.3" fill="#ad4a50"/>
<rect x="1552.97" y="363.1" width="15.2" height="12.3" fill="#de484e" stroke="#ad4a50" stroke-width="0.6"/>
<rect x="1579.35" y="398.6" width="2" height="16.0" fill="#ad4a50"/>
<rect x="1572.75" y="374.3" width="15.2" height="24.3" fill="#de484e" stroke="#ad4a50" stroke-width="0.6"/>
<rect x="1599.13" y="384.2" width="2" height="12.7" fill="#3f8880"/>
<rect x="1599.13" y="398.7" width="2" height="7.1" fill="#3f8880"/>
<rect x="1592.53" y="396.9" width="15.2" height="1.8" fill="#50a398" stroke="#3f8880" stroke-width="0.6"/>
<rect x="1618.91" y="352.0" width="2" height="2.0" fill="#3f8880"/>
<rect x="1612.31" y="354.0" width="15.2" height="44.7" fill="#50a398" stroke="#3f8880" stroke-width="0.6"/>
<rect x="1638.68" y="308.3" width="2" height="1.5" fill="#3f8880"/>
<rect x="1638.68" y="353.5" width="2" height="5.2" fill="#3f8880"/>
<rect x="1632.09" y="309.8" width="15.2" height="43.7" fill="#50a398" stroke="#3f8880" stroke-width="0.6"/>
<rect x="1658.46" y="340.6" width="2" height="1.1" fill="#ad4a50"/>
<rect x="1651.86" y="307.1" width="15.2" height="33.5" fill="#de484e" stroke="#ad4a50" stroke-width="0.6"/>
<rect x="1678.24" y="317.2" width="2" height="21.9" fill="#ad4a50"/>
<rect x="1678.24" y="367.6" width="2" height="7.1" fill="#ad4a50"/>
<rect x="1671.64" y="339.1" width="15.2" height="28.5" fill="#de484e" stroke="#ad4a50" stroke-width="0.6"/>
<rect x="1698.02" y="348.0" width="2" height="9.2" fill="#3f8880"/>
<rect x="1698.02" y="367.6" width="2" height="13.0" fill="#3f8880"/>
<rect x="1691.42" y="357.2" width="15.2" height="10.4" fill="#50a398" stroke="#3f8880" stroke-width="0.6"/>
<rect x="1717.80" y="363.1" width="2" height="14.1" fill="#ad4a50"/>
<rect x="1717.80" y="400.5" width="2" height="11.2" fill="#ad4a50"/>
<rect x="1711.20" y="377.2" width="15.2" height="23.3" fill="#de484e" stroke="#ad4a50" stroke-width="0.6"/>
<rect x="1737.58" y="386.1" width="2" height="6.9" fill="#3f8880"/>
<rect x="1737.58" y="399.4" width="2" height="9.4" fill="#3f8880"/>
<rect x="1730.98" y="393.0" width="15.2" height="6.4" fill="#50a398" stroke="#3f8880" stroke-width="0.6"/>
<rect x="1757.36" y="389.0" width="2" height="4.0" fill="#ad4a50"/>
<rect x="1757.36" y="427.6" width="2" height="4.0" fill="#ad4a50"/>
<rect x="1750.76" y="393.0" width="15.2" height="34.6" fill="#de484e" stroke="#ad4a50" stroke-width="0.6"/>
<rect x="1777.14" y="427.6" width="2" height="25.9" fill="#3f8880"/>
<rect x="1770.54" y="396.9" width="15.2" height="30.7" fill="#50a398" stroke="#3f8880" stroke-width="0.6"/>
<rect x="1796.92" y="392.2" width="2" height="5.2" fill="#ad4a50"/>
<rect x="1796.92" y="416.5" width="2" height="21.3" fill="#ad4a50"/>
<rect x="1790.32" y="397.4" width="15.2" height="19.1" fill="#de484e" stroke="#ad4a50" stroke-width="0.6"/>
<rect x="1816.70" y="393.2" width="2" height="9.0" fill="#3f8880"/>
<rect x="1816.70" y="407.5" width="2" height="5.3" fill="#3f8880"/>
<rect x="1810.10" y="402.2" width="15.2" height="5.3" fill="#50a398" stroke="#3f8880" stroke-width="0.6"/>
<rect x="1836.47" y="371.1" width="2" height="3.1" fill="#3f8880"/>
<rect x="1836.47" y="402.6" width="2" height="10.2" fill="#3f8880"/>
<rect x="1829.88" y="374.2" width="15.2" height="28.4" fill="#50a398" stroke="#3f8880" stroke-width="0.6"/>
<rect x="1856.25" y="358.2" width="2" height="3.9" fill="#3f8880"/>
<rect x="1849.65" y="362.1" width="15.2" height="12.5" fill="#50a398" stroke="#3f8880" stroke-width="0.6"/>
<rect x="1876.03" y="349.2" width="2" height="14.1" fill="#ad4a50"/>
<rect x="1876.03" y="372.5" width="2" height="4.2" fill="#ad4a50"/>
<rect x="1869.43" y="363.3" width="15.2" height="9.2" fill="#de484e" stroke="#ad4a50" stroke-width="0.6"/>
<rect x="1895.81" y="339.0" width="2" height="4.2" fill="#3f8880"/>
<rect x="1889.21" y="343.2" width="15.2" height="29.3" fill="#50a398" stroke="#3f8880" stroke-width="0.6"/>
<rect x="1915.59" y="350.6" width="2" height="6.2" fill="#ad4a50"/>
<rect x="1908.99" y="344.3" width="15.2" height="6.3" fill="#de484e" stroke="#ad4a50" stroke-width="0.6"/>
<rect x="1935.37" y="347.1" width="2" height="3.0" fill="#ad4a50"/>
<rect x="1935.37" y="369.6" width="2" height="5.3" fill="#ad4a50"/>
<rect x="1928.77" y="350.1" width="15.2" height="19.5" fill="#de484e" stroke="#ad4a50" stroke-width="0.6"/>
<rect x="1955.15" y="358.2" width="2" height="12.1" fill="#ad4a50"/>
<rect x="1948.55" y="370.3" width="15.2" height="6.4" fill="#de484e" stroke="#ad4a50" stroke-width="0.6"/>
<rect x="1974.93" y="355.4" width="2" height="5.9" fill="#3f8880"/>
<rect x="1974.93" y="374.6" width="2" height="20.4" fill="#3f8880"/>
<rect x="1968.33" y="361.2" width="15.2" height="13.4" fill="#50a398" stroke="#3f8880" stroke-width="0.6"/>
<rect x="1994.71" y="360.3" width="2" height="0.9" fill="#ad4a50"/>
<rect x="1994.71" y="370.7" width="2" height="3.2" fill="#ad4a50"/>
<rect x="1988.11" y="361.2" width="15.2" height="9.4" fill="#de484e" stroke="#ad4a50" stroke-width="0.6"/>
<g fill="#8a93a0" opacity="0.38">
<text x="170" y="679.5" font-size="27.5" font-weight="bold" textLength="107" lengthAdjust="spacing">STAR</text>
<text x="177.5" y="707.2" font-size="22.5" textLength="99.4" lengthAdjust="spacing">TRADER</text>
<rect x="130.6" y="656" width="6.2" height="5" rx="1"/><rect x="130.6" y="705" width="6.2" height="5" rx="1"/>
<path d="M113.5,684 Q133.7,678.5 154,684 Q133.7,689.5 113.5,684 Z"/>
<path d="M120.8,662.8 L125.8,668.6 M147,662.8 L142,668.6 M131.5,690 L121.5,702 M136,690 L146.5,702" stroke="#8a93a0" stroke-width="6.5" stroke-linecap="round"/>
</g>
<g stroke="#000" stroke-width="1.9"><line x1="1433" y1="279.1" x2="1451" y2="279.1"/><line x1="1455" y1="279.1" x2="1473" y2="279.1"/>
<line x1="108.2" y1="691.9" x2="126" y2="691.9"/><line x1="130.1" y1="691.9" x2="147.9" y2="691.9"/></g>
<text x="1476.3" y="288.6" font-size="27.7" fill="#000" textLength="99.6" lengthAdjust="spacingAndGlyphs">3500.05</text>
<text x="151.3" y="701.9" font-size="27.7" fill="#000" textLength="99.4" lengthAdjust="spacingAndGlyphs">2669.23</text>
</g>
<path d="M2058,285.8 H2188 a5,5 0 0 1 5,5 V320.4 a5,5 0 0 1 -5,5 H2058 Z" fill="#3a62ea"/>
<text x="2077.9" y="316.8" font-size="28.5" fill="#fff" textLength="100.7" lengthAdjust="spacingAndGlyphs">3440.07</text>
<path d="M2058,425.0 H2188 a5,5 0 0 1 5,5 V459.6 a5,5 0 0 1 -5,5 H2058 Z" fill="#3a62ea"/>
<text x="2077.9" y="456.0" font-size="28.5" fill="#fff" textLength="100.7" lengthAdjust="spacingAndGlyphs">3139.82</text>
<path d="M2058,576.7 H2188 a5,5 0 0 1 5,5 V611.3 a5,5 0 0 1 -5,5 H2058 Z" fill="#3a62ea"/>
<text x="2077.9" y="607.7" font-size="28.5" fill="#fff" textLength="100.7" lengthAdjust="spacingAndGlyphs">2842.87</text>
<g clip-path="url(#cr)">
<polyline points="78.1,888.0 97.9,866.0 117.7,847.2 137.5,866.1 157.3,861.7 177.0,823.9 196.8,813.2 216.6,817.7 236.4,802.1 256.2,857.7 275.9,835.0 295.7,842.1 315.5,811.0 335.3,806.1 355.1,793.2 374.8,772.8 394.6,757.2 414.4,779.0 434.2,775.4 453.9,746.6 473.7,766.1 493.5,762.6 513.3,747.9 533.1,828.3 552.8,816.1 572.6,790.1 592.4,793.9 612.2,790.1 632.0,794.6 651.7,782.1 671.5,847.2 691.3,846.1 711.1,903.4 730.9,926.1 750.6,887.9 770.4,865.0 790.2,863.4 810.0,875.0 829.7,873.9 849.5,908.3 869.3,876.1 889.1,859.0 908.9,811.7 928.6,815.4 948.4,804.3 968.2,781.7 988.0,773.9 1007.8,778.3 1027.5,816.8 1047.3,835.0 1067.1,827.7 1086.9,829.9 1106.7,797.2 1126.4,776.8 1146.2,753.9 1166.0,770.6 1185.8,759.9 1205.5,795.0 1225.3,898.3 1245.1,950.1 1264.9,950.6 1284.7,867.2 1304.4,817.2 1324.2,792.3 1344.0,816.1 1363.8,808.3 1383.6,768.3 1403.3,781.2 1423.1,753.9 1442.9,788.8 1462.7,853.9 1482.5,831.7 1502.2,851.0 1522.0,841.2 1541.8,858.3 1561.6,877.2 1581.3,908.3 1601.1,907.2 1620.9,861.7 1640.7,825.0 1660.5,865.0 1680.2,897.2 1700.0,887.9 1719.8,933.9 1739.6,926.6 1759.4,959.0 1779.1,928.3 1798.9,945.7 1818.7,931.7 1838.5,903.9 1858.3,892.8 1878.0,903.9 1897.8,875.4 1917.6,885.7 1937.4,908.8 1957.1,916.1 1976.9,899.9 1996.7,912.3" fill="none" stroke="#6a4fa2" stroke-width="2.4" stroke-linejoin="round"/>
</g>
<rect x="117" y="284" width="365" height="80" rx="40" fill="#dcdde2" fill-opacity="0.62"/>
<rect x="117" y="753" width="365" height="80" rx="40" fill="#dcdde2" fill-opacity="0.62"/>
<text x="149.3" y="336.3" font-size="36.8" font-weight="bold" fill="#383838" textLength="62" lengthAdjust="spacingAndGlyphs">MA</text>
<text x="216.6" y="332.4" font-size="26.9" fill="#383838" textLength="106.8" lengthAdjust="spacingAndGlyphs">(5,10,30)</text>
<text x="149.4" y="805.2" font-size="37.5" font-weight="bold" fill="#383838" textLength="58.6" lengthAdjust="spacingAndGlyphs">RSI</text>
<text x="216.6" y="801.8" font-size="26.9" fill="#383838" textLength="44.6" lengthAdjust="spacingAndGlyphs">(14)</text>
<g fill="none" stroke="#15234a" stroke-width="2.6" stroke-linecap="round" stroke-linejoin="round">
<path d="M437.6,311.4 L448.6,321.2 L437.6,331"/>
<path d="M437.6,780 L448.6,790 L437.6,800"/>
</g>
</svg></body></html>
